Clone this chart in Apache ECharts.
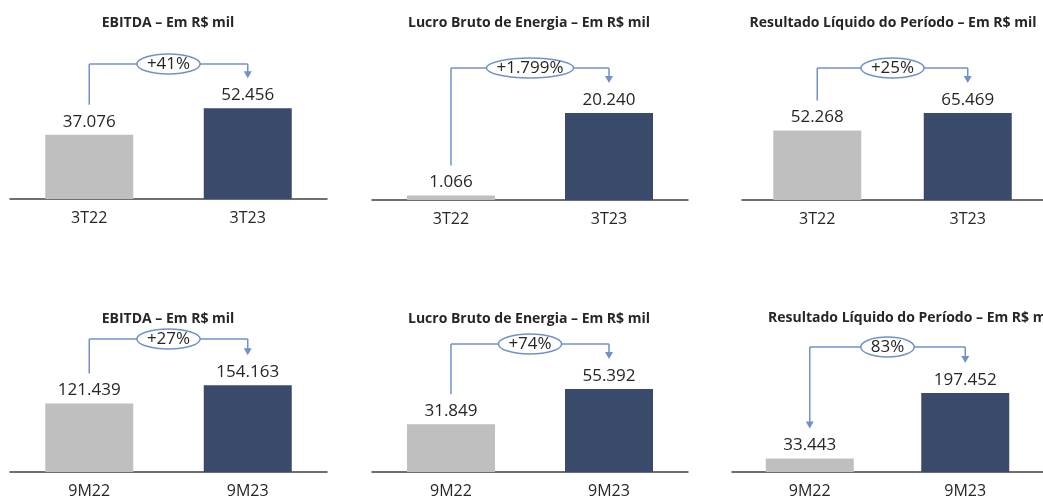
<!DOCTYPE html>
<html><head><meta charset="utf-8">
<script src="https://cdn.jsdelivr.net/npm/echarts@6/dist/echarts.min.js"></script>
<style>html,body{margin:0;padding:0;background:#fff}#c{width:1043px;height:500px}</style>
</head><body><div id="c"></div>
<script>
// ---- data ----
const titles = [
  'EBITDA – Em R$ mil',
  'Lucro Bruto de Energia – Em R$ mil',
  'Resultado Líquido do Período – Em R$ mil',
  'EBITDA – Em R$ mil',
  'Lucro Bruto de Energia – Em R$ mil',
  'Resultado Líquido do Período – Em R$ mil'
];
const categories3T = ['3T22', '3T23'];
const categories9M = ['9M22', '9M23'];
const ebitda3T = [37076, 52456];
const lucroBruto3T = [1066, 20240];
const resultado3T = [52268, 65469];
const ebitda9M = [121439, 154163];
const lucroBruto9M = [31849, 55392];
const resultado9M = [33443, 197452];
const changes = ['+41%', '+1.799%', '+25%', '+27%', '+74%', '83%'];
const leftArrow = [false, false, false, false, false, true];

const panelValues = [ebitda3T, lucroBruto3T, resultado3T, ebitda9M, lucroBruto9M, resultado9M];
const panelCats = [categories3T, categories3T, categories3T, categories9M, categories9M, categories9M];

// ---- layout / style ----
const yMax = [57800, 23260, 75250, 174000, 64700, 245000];
const layout = [
  {left: 10,  width: 317, base: 199, tx: 168, ty: 23,  align: 'center', by: 64},
  {left: 372, width: 316, base: 200, tx: 529, ty: 23,  align: 'center', by: 68},
  {left: 742, width: 316, base: 200, tx: 893, ty: 23,  align: 'center', by: 68},
  {left: 10,  width: 317, base: 474, tx: 168, ty: 319, align: 'center', by: 339},
  {left: 372, width: 316, base: 475, tx: 529, ty: 319, align: 'center', by: 344},
  {left: 732, width: 316, base: 474, tx: 768, ty: 318, align: 'left',   by: 347}
];
const FONT = 'Open Sans';
const GRAY = '#BFBFBF', NAVY = '#3A4A6A', BLUE = '#7092C8', TXT = '#262626';
const fmt = v => String(v).replace(/\B(?=(\d{3})+(?!\d))/g, '.');

const chart = echarts.init(document.getElementById('c'), null, {renderer: 'canvas'});
const option = {
  animation: false,
  backgroundColor: '#fff',
  title: layout.map((L, i) => ({
    text: titles[i], left: L.tx, top: L.ty - 9, padding: 0, textAlign: L.align,
    textStyle: {fontFamily: FONT, fontSize: 14, fontWeight: 'bold', color: TXT, lineHeight: 18}
  })),
  grid: layout.map(L => ({left: L.left, width: L.width, top: L.base - 100, height: 100, containLabel: false})),
  xAxis: layout.map((L, i) => ({
    type: 'category', gridIndex: i, data: panelCats[i],
    axisLine: {lineStyle: {color: '#404040', width: 1.5}},
    axisTick: {show: false},
    axisLabel: {fontFamily: FONT, fontSize: 16, color: TXT, margin: 10, lineHeight: 18}
  })),
  yAxis: layout.map((L, i) => ({type: 'value', gridIndex: i, min: 0, max: yMax[i], show: false})),
  series: panelValues.map((vals, i) => ({
    type: 'bar', xAxisIndex: i, yAxisIndex: i, barWidth: 88, silent: true,
    data: vals.map((v, j) => ({value: v, itemStyle: {color: j ? NAVY : GRAY}})),
    label: {show: true, position: 'top', distance: 3, formatter: p => fmt(p.value),
      fontFamily: FONT, fontSize: 17, color: TXT, lineHeight: 20}
  }))
};
chart.setOption(option);

// ---- change connectors ----
const mctx = document.createElement('canvas').getContext('2d');
mctx.font = '17px "' + FONT + '"';
const graphics = [];
function arrow(x, tipY) {
  return {type: 'polygon', shape: {points: [[x - 4, tipY - 7], [x + 4, tipY - 7], [x, tipY]]},
    style: {fill: BLUE}, z: 10};
}
function line(x1, y1, x2, y2) {
  return {type: 'line', shape: {x1, y1, x2, y2}, style: {stroke: BLUE, lineWidth: 1.5}, z: 10};
}
panelValues.forEach((vals, i) => {
  const p0 = chart.convertToPixel({seriesIndex: i}, [0, vals[0]]);
  const p1 = chart.convertToPixel({seriesIndex: i}, [1, vals[1]]);
  const by = layout[i].by;
  const x0 = p0[0], x1 = p1[0];
  const y0 = p0[1] - 30, y1 = p1[1] - 30;
  if (leftArrow[i]) { graphics.push(line(x0, by, x0, y0 - 6)); graphics.push(arrow(x0, y0)); }
  else graphics.push(line(x0, y0, x0, by));
  graphics.push(line(x0, by, x1, by));
  graphics.push(line(x1, by, x1, y1 - 6));
  graphics.push(arrow(x1, y1));
  const cx = (x0 + x1) / 2;
  const tw = mctx.measureText(changes[i]).width;
  graphics.push({type: 'ellipse', shape: {cx, cy: by, rx: tw / 2 + 10, ry: 10},
    style: {fill: '#fff', stroke: BLUE, lineWidth: 1.5}, z: 11});
  graphics.push({type: 'text', x: cx, y: by, z: 12,
    style: {text: changes[i], fontFamily: FONT, fontSize: 17, fill: TXT, align: 'center', verticalAlign: 'middle'}});
});
chart.setOption({graphic: graphics});
</script>
</body></html>
